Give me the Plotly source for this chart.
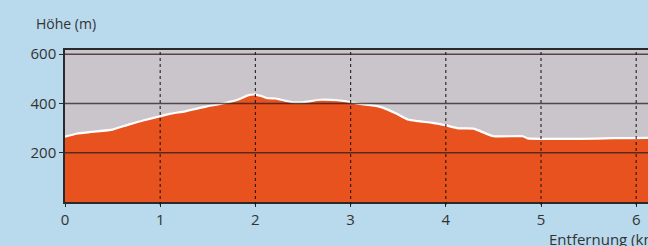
import plotly.graph_objects as go

# Distance (km) and elevation (m)
distance_km = [0.00, 0.12, 0.29, 0.50, 0.65, 0.82, 1.00, 1.10, 1.26, 1.47, 1.68, 1.82,
               1.92, 2.00, 2.07, 2.13, 2.21, 2.26, 2.39, 2.50, 2.68, 2.86, 2.99, 3.10,
               3.28, 3.39, 3.50, 3.60, 3.71, 3.86, 3.99, 4.13, 4.29, 4.50, 4.81,
               4.86, 5.06, 5.41, 5.76, 6.11, 6.20]
elevation_m = [265, 277, 285, 294, 312, 331, 348, 358, 368, 386, 402, 416,
               433, 436, 429, 421, 420, 416, 405, 405, 415, 413, 406, 398,
               389, 375, 355, 335, 328, 321, 312, 299, 298, 267, 267,
               258, 256, 256, 259, 260, 260]

x_ticks = [0, 1, 2, 3, 4, 5, 6]
y_ticks = [200, 400, 600]
x_range = [0, 6.124]
y_range = [0, 617]

fig = go.Figure()
fig.add_trace(go.Scatter(
    x=distance_km, y=elevation_m, mode="lines",
    line=dict(color="white", width=2.2, shape="spline", smoothing=0.4),
    fill="tozeroy", fillcolor="#e8521e", hoverinfo="skip", showlegend=False,
))

shapes = []
for v in y_ticks:
    shapes.append(dict(type="line", xref="paper", x0=0, x1=1, yref="y", y0=v, y1=v,
                       line=dict(color="rgba(40,30,30,0.75)", width=1.5), layer="above"))
for v in x_ticks[1:]:
    shapes.append(dict(type="line", xref="x", x0=v, x1=v, yref="paper", y0=-0.02, y1=1,
                       line=dict(color="rgba(20,20,20,0.85)", width=1.2, dash="dot"), layer="above"))

fig.update_layout(
    width=648, height=246,
    margin=dict(l=65, r=0, t=50, b=44),
    paper_bgcolor="#b9d9ec", plot_bgcolor="#cac4cb",
    font=dict(family="Open Sans, Noto Sans, sans-serif", size=14, color="#333333"),
    shapes=shapes,
    xaxis=dict(range=x_range, tickvals=x_ticks, showgrid=False, zeroline=False,
               showline=True, linecolor="#2a2a2a", linewidth=1.5, mirror=True,
               ticks="outside", ticklen=3, tickcolor="#2a2a2a", layer="above traces",
               tickfont=dict(size=15, color="#333333")),
    yaxis=dict(range=y_range, tickvals=y_ticks, showgrid=False, zeroline=False,
               showline=True, linecolor="#2a2a2a", linewidth=1.5,
               ticks="outside", ticklen=4, tickcolor="#2a2a2a", layer="above traces",
               tickfont=dict(size=15, color="#333333")),
    annotations=[
        dict(text="Höhe (m)", xref="paper", yref="paper", x=-0.054, y=1.10,
             xanchor="left", yanchor="bottom", showarrow=False,
             font=dict(size=14, color="#333333")),
        dict(text="Entfernung (km)", xref="paper", yref="paper", x=0.827, y=-0.165,
             xanchor="left", yanchor="top", showarrow=False,
             font=dict(size=15, color="#333333")),
    ],
)

fig.write_html("out.html", config={"displayModeBar": False},
               post_script="document.body.style.margin='0';document.body.style.overflow='hidden';")
